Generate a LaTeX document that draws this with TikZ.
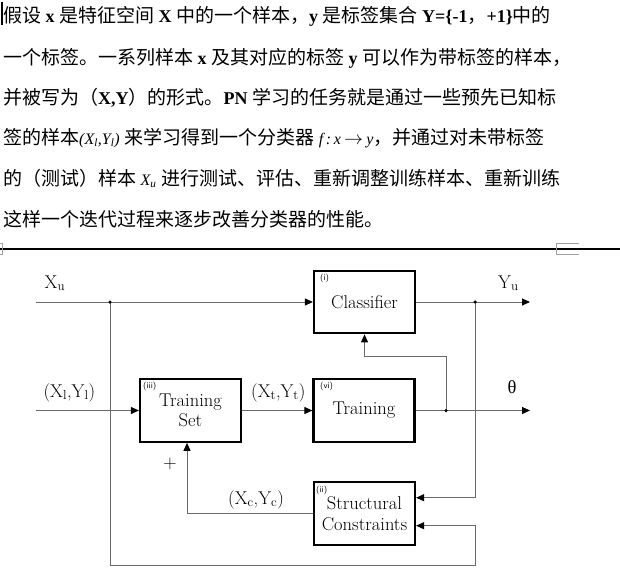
\RequirePackage{fix-cm}
\documentclass[tikz,border=0pt]{standalone}
\usepackage{fontspec}
\newfontfamily\cjk{Noto Sans CJK SC}
\newfontfamily\lat{Liberation Serif}
\usetikzlibrary{arrows.meta}
\definecolor{linegray}{RGB}{105,105,105}
\definecolor{markgray}{RGB}{160,160,160}
\newcommand\zc[1]{{\cjk #1}}
\newcommand\zb[1]{{\lat\bfseries\fontsize{18}{22}\selectfont #1}}
\newcommand\zi[1]{{\lat\itshape\fontsize{16}{22}\selectfont #1}}
\newcommand\zs{\hspace{4.5pt}}
\newcommand\dfont{\fontsize{18.5}{20.5}\selectfont}
\begin{document}
\begin{tikzpicture}[x=1pt,y=-1pt,
  line/.style={draw=linegray, line width=0.9pt},
  arr/.style={line, -{Triangle[length=8pt,width=7pt,color=black]}},
  blk/.style={draw=black, line width=2.2pt, minimum width=101pt, minimum height=62.5pt, inner sep=0pt, align=center, font=\dfont},
  lab/.style={font=\dfont, inner sep=0pt, anchor=base west},
  tag/.style={font=\sffamily\fontsize{8.5}{9}\selectfont, inner sep=0pt, anchor=north west},
  dot/.style={circle, fill=black, inner sep=0pt, minimum size=3.5pt},
  para/.style={anchor=base west, inner sep=0pt, font=\cjk\fontsize{19}{22}\selectfont}
]
\useasboundingbox (0,0) rectangle (620,573);

% ---- text paragraph ----
\fill[black] (1,2) rectangle (2.7,25);
\node[para] (l1) at (3,22) {\zc{假设}\zs\zb{x}\zs\zc{是特征空间}\zs\zb{X}\zs\zc{中的一个样本，}\zb{y}\zs\zc{是标签集合}\zs\zb{Y=\{-1}\zc{，}\zb{+1\}}\zc{中的}};
\node[para] (l2) at (3,64) {\zc{一个标签。一系列样本}\zs\zb{x}\zs\zc{及其对应的标签}\zs\zb{y}\zs\zc{可以作为带标签的样本，}};
\node[para] (l3) at (3,104) {\zc{并被写为（}\zb{X,Y}\zc{）的形式。}\zb{PN}\zs\zc{学习的任务就是通过一些预先已知标}};
\node[para] (l4) at (3,144) {\zc{签的样本}\zi{(X\textsubscript{l},Y\textsubscript{l})}\zs\zc{来学习得到一个分类器}\zs\zi{f\,:\,x}\,$\rightarrow$\,\zi{y}\zc{，并通过对未带标签}};
\node[para] (l5) at (3,185) {\zc{的（测试）样本}\zs\zi{X\textsubscript{u}}\zs\zc{进行测试、评估、重新调整训练样本、重新训练}};
\node[para] (l6) at (3,226) {\zc{这样一个迭代过程来逐步改善分类器的性能。}};

% ---- separator and marks ----
\draw[line width=2.3pt] (0,249) -- (620,249);
\draw[markgray, line width=0.8pt] (0,243.5) -- (2.5,243.5) -- (2.5,254) -- (0,254);
\draw[markgray, line width=0.8pt] (579,243.3) -- (556,243.3) -- (556,254) -- (579,254);

% ---- blocks ----
\node[blk] (cls) at (364.5,302) {Classifier};
\node[blk] (ts) at (190.5,410.5) {\raisebox{-2pt}{Training}\\\raisebox{-2pt}{Set}};
\node[blk] (tr) at (364,410.5) {Training};
\node[blk] (sc) at (364.5,513.5) {Structural\\Constraints};

\node[tag] (t1) at (320,274) {(i)};
\node[tag] (t3) at (143,382) {(iii)};
\node[tag] (t6) at (320,382) {(vi)};
\node[tag] (t2) at (316,486) {(ii)};

% ---- coordinates ----
\coordinate (xu) at (36,302);
\coordinate (xl) at (36,410.5);
\coordinate (yu) at (530,302);
\coordinate (th) at (530,410.5);
\coordinate (c1) at (446,356);
\coordinate (c2) at (110,565.7);
\coordinate (c3) at (475,525.7);

% ---- connectors ----
\draw[arr] (xu) -- (cls.west);
\draw[arr] (cls.east) -- (yu);
\draw[arr] (xl) -- (ts.west);
\draw[arr] (ts.east) -- (tr.west);
\draw[arr] (tr.east) -- (th);
\draw[arr] (446,410.5) -- (c1) -| (cls.south);
\draw[arr] (475,302) |- ([yshift=15.8pt]sc.east);
\draw[arr] (110,302) -- (c2) -| (c3) -- ([yshift=-12.2pt]sc.east);
\draw[arr] (sc.west) -| ([xshift=-3.5pt]ts.south);

\node[dot] (d1) at (110,302) {};
\node[dot] (d2) at (475,302) {};
\node[dot] (d3) at (446,410.5) {};

% ---- labels ----
\node[lab] (xul) at (44.5,288) {X$_{\mathrm{u}}$};
\node[lab] (yul) at (498,288) {Y$_{\mathrm{u}}$};
\node[lab] (xyl) at (43.5,397) {(X$_{\mathrm{l}}$,Y$_{\mathrm{l}}$)};
\node[lab] (xyt) at (251,397) {(X$_{\mathrm{t}}$,Y$_{\mathrm{t}}$)};
\node[lab] (thl) at (507.5,393.5) {{\lat θ}};
\node[lab] (xyc) at (228,504) {(X$_{\mathrm{c}}$,Y$_{\mathrm{c}}$)};
\node[font=\dfont, inner sep=0pt] (plus) at (170,464) {+};
\end{tikzpicture}
\end{document}
